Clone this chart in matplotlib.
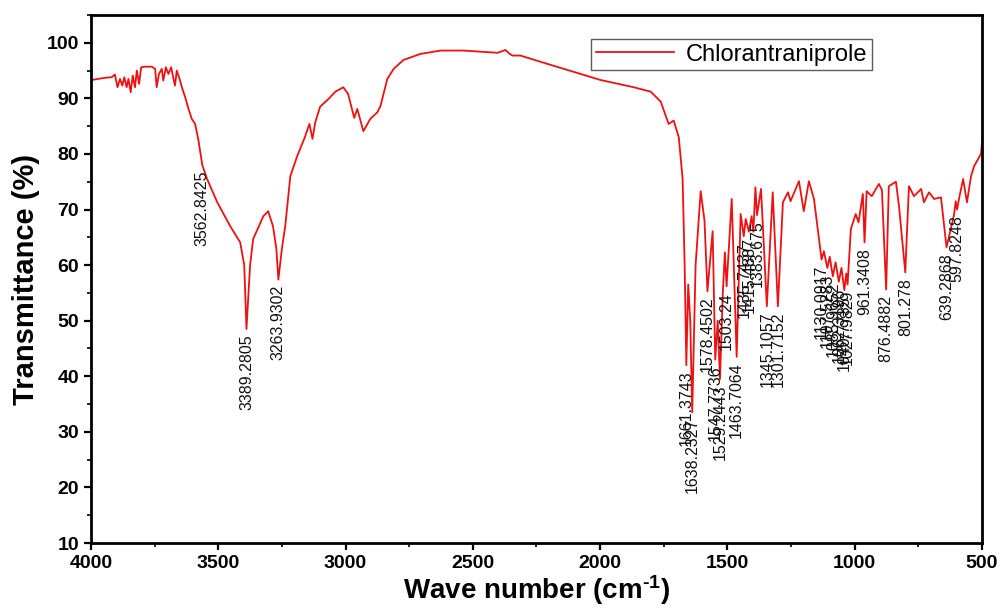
import matplotlib
matplotlib.use("Agg")
import matplotlib.pyplot as plt
from matplotlib.ticker import MultipleLocator

plt.rcParams['font.family'] = ['Liberation Sans', 'DejaVu Sans']
plt.rcParams['mathtext.fontset'] = 'custom'
plt.rcParams['mathtext.rm'] = 'Liberation Sans:bold'
plt.rcParams['mathtext.default'] = 'rm'

# ---- spectrum trace (wave number, transmittance %) ----
wavenumber = [
    3999, 3945, 3919, 3906, 3896, 3886, 3877, 3869, 3860, 3853, 3844, 3836, 3827,
    3820, 3811, 3803, 3788, 3761, 3748, 3742, 3733, 3722, 3716, 3706, 3696, 3685,
    3676, 3670, 3663, 3650, 3643, 3630, 3617, 3604, 3591, 3578, 3562.8425, 3544,
    3504, 3453, 3414, 3398, 3389.2805, 3375, 3363, 3323, 3304, 3285, 3272,
    3263.9302, 3250, 3237, 3217, 3190, 3160, 3142, 3130, 3119, 3100, 3067, 3040,
    3009, 2990, 2966, 2954, 2930, 2903, 2875, 2863, 2836, 2811, 2773, 2706, 2627,
    2537, 2403, 2372, 2355, 2344, 2313, 2207, 2077, 1998, 1868, 1801, 1762, 1731,
    1711, 1691, 1676, 1668, 1661.3743, 1654, 1646, 1638.2327, 1625, 1605, 1590,
    1578.4502, 1558, 1547.7736, 1538, 1529.2443, 1518, 1510, 1503.24, 1483,
    1463.7064, 1448, 1435.7437, 1428, 1415.4887, 1405, 1398, 1390, 1383.675, 1368,
    1345.1057, 1322, 1301.7152, 1282, 1262, 1252, 1240, 1219, 1200, 1180, 1160,
    1141, 1130.0917, 1121, 1107.5283, 1098, 1085.9652, 1075, 1062.3196, 1052,
    1040.7735, 1033, 1027.9829, 1015, 996, 985, 968, 961.3408, 953, 933, 905, 893,
    876.4882, 866, 838, 826, 801.278, 787, 767, 739, 728, 708, 688, 661, 639.2868,
    625, 610, 603, 597.8248, 590, 574, 559, 543, 531, 504, 500,
]
transmittance = [
    93.3, 93.7, 93.8, 94.3, 92.0, 93.5, 92.3, 93.8, 92.0, 93.5, 91.1, 94.1, 92.0,
    95.0, 92.6, 95.6, 95.7, 95.7, 95.3, 92.0, 94.4, 95.3, 93.2, 95.6, 94.4, 95.6,
    93.5, 92.3, 95.0, 93.2, 92.0, 90.2, 88.1, 86.3, 85.4, 82.5, 78.0, 75.5,
    71.3, 67.0, 64.1, 60.0, 48.5, 60.0, 64.7, 68.8, 69.7, 67.0, 63.0,
    57.4, 63.0, 67.0, 76.0, 79.6, 83.0, 85.4, 82.7, 85.7, 88.5, 89.9, 91.2,
    92.0, 90.8, 86.5, 88.1, 84.1, 86.3, 87.5, 88.6, 93.5, 95.3, 96.9, 98.0, 98.6,
    98.6, 98.2, 98.7, 98.0, 97.7, 97.7, 96.2, 94.4, 93.3, 92.0, 91.2, 89.4, 85.4,
    86.0, 83.0, 75.5, 60.0, 42.0, 56.5, 50.0, 33.5, 60.0, 73.3, 68.0,
    55.3, 66.1, 43.0, 50.0, 39.5, 55.0, 62.3, 56.2, 71.9,
    43.5, 69.2, 65.2, 68.3, 66.0, 68.8, 66.0, 74.0, 69.0, 73.7,
    52.6, 73.1, 52.6, 71.3, 73.1, 71.5, 72.8, 75.1, 69.7, 75.1, 71.9,
    65.0, 61.0, 62.5, 59.5, 61.5, 58.0, 60.5, 57.0, 59.5,
    55.5, 58.5, 56.5, 66.5, 69.2, 67.7, 72.8, 64.1, 73.3, 72.4, 74.6, 73.5,
    55.6, 74.2, 75.0, 70.6, 58.7, 74.2, 72.4, 73.7, 71.3, 73.1, 71.9, 72.2, 63.2,
    66.0, 69.0, 71.5, 70.0, 72.0, 75.5, 71.3, 76.0, 77.8, 80.0, 82.0,
]

# ---- peak annotations ----
peak_labels = [
    "3562.8425", "3389.2805", "3263.9302", "1661.3743", "1638.2327", "1578.4502",
    "1547.7736", "1529.2443", "1503.24", "1463.7064", "1435.7437", "1415.4887",
    "1383.675", "1345.1057", "1301.7152", "1130.0917", "1107.5283", "1085.9652",
    "1062.3196", "1040.7735", "1027.9829", "961.3408", "876.4882", "801.278",
    "639.2868", "597.8248",
]

series_name = "Chlorantraniprole"
x_ticks = [4000, 3500, 3000, 2500, 2000, 1500, 1000, 500]
y_ticks = [10, 20, 30, 40, 50, 60, 70, 80, 90, 100]

fig = plt.figure(figsize=(10.01, 6.12), dpi=100)
ax = fig.add_axes([0.0909, 0.1127, 0.8901, 0.8628])

ax.plot(wavenumber, transmittance, color='#ee1111', lw=1.3, label=series_name)

lookup = dict(zip(wavenumber, transmittance))
for lab in peak_labels:
    wn = float(lab)
    ax.annotate(lab, xy=(wn, lookup[wn]), xytext=(0, -4),
                textcoords='offset points', rotation=90, ha='center', va='top',
                fontsize=11.5, color='#111111')

ax.set_xlim(4000, 500)
ax.set_ylim(10, 105)
ax.set_xticks(x_ticks)
ax.set_yticks(y_ticks)
ax.xaxis.set_minor_locator(MultipleLocator(250))
ax.yaxis.set_minor_locator(MultipleLocator(5))
ax.tick_params(axis='both', which='major', direction='out', length=5, width=1.6,
               labelsize=14, top=False, right=False)
ax.tick_params(axis='both', which='minor', direction='out', length=3, width=1.2,
               top=False, right=False)
for t in ax.get_xticklabels() + ax.get_yticklabels():
    t.set_fontweight('bold')
for s in ax.spines.values():
    s.set_linewidth(2)

ax.set_xlabel("Wave number (cm$^{\\text{-1}}$)", fontsize=20, fontweight='bold',
              labelpad=1)
ax.set_ylabel("Transmittance (%)", fontsize=21, fontweight='bold', labelpad=5)

leg = ax.legend(loc='upper left', bbox_to_anchor=(0.548, 0.977), fontsize=17,
                frameon=True, fancybox=False, edgecolor='#333333', handlelength=3.3,
                borderpad=0.2, handletextpad=0.5)
leg.get_frame().set_linewidth(1.0)

fig.savefig("out.png", dpi=100)
